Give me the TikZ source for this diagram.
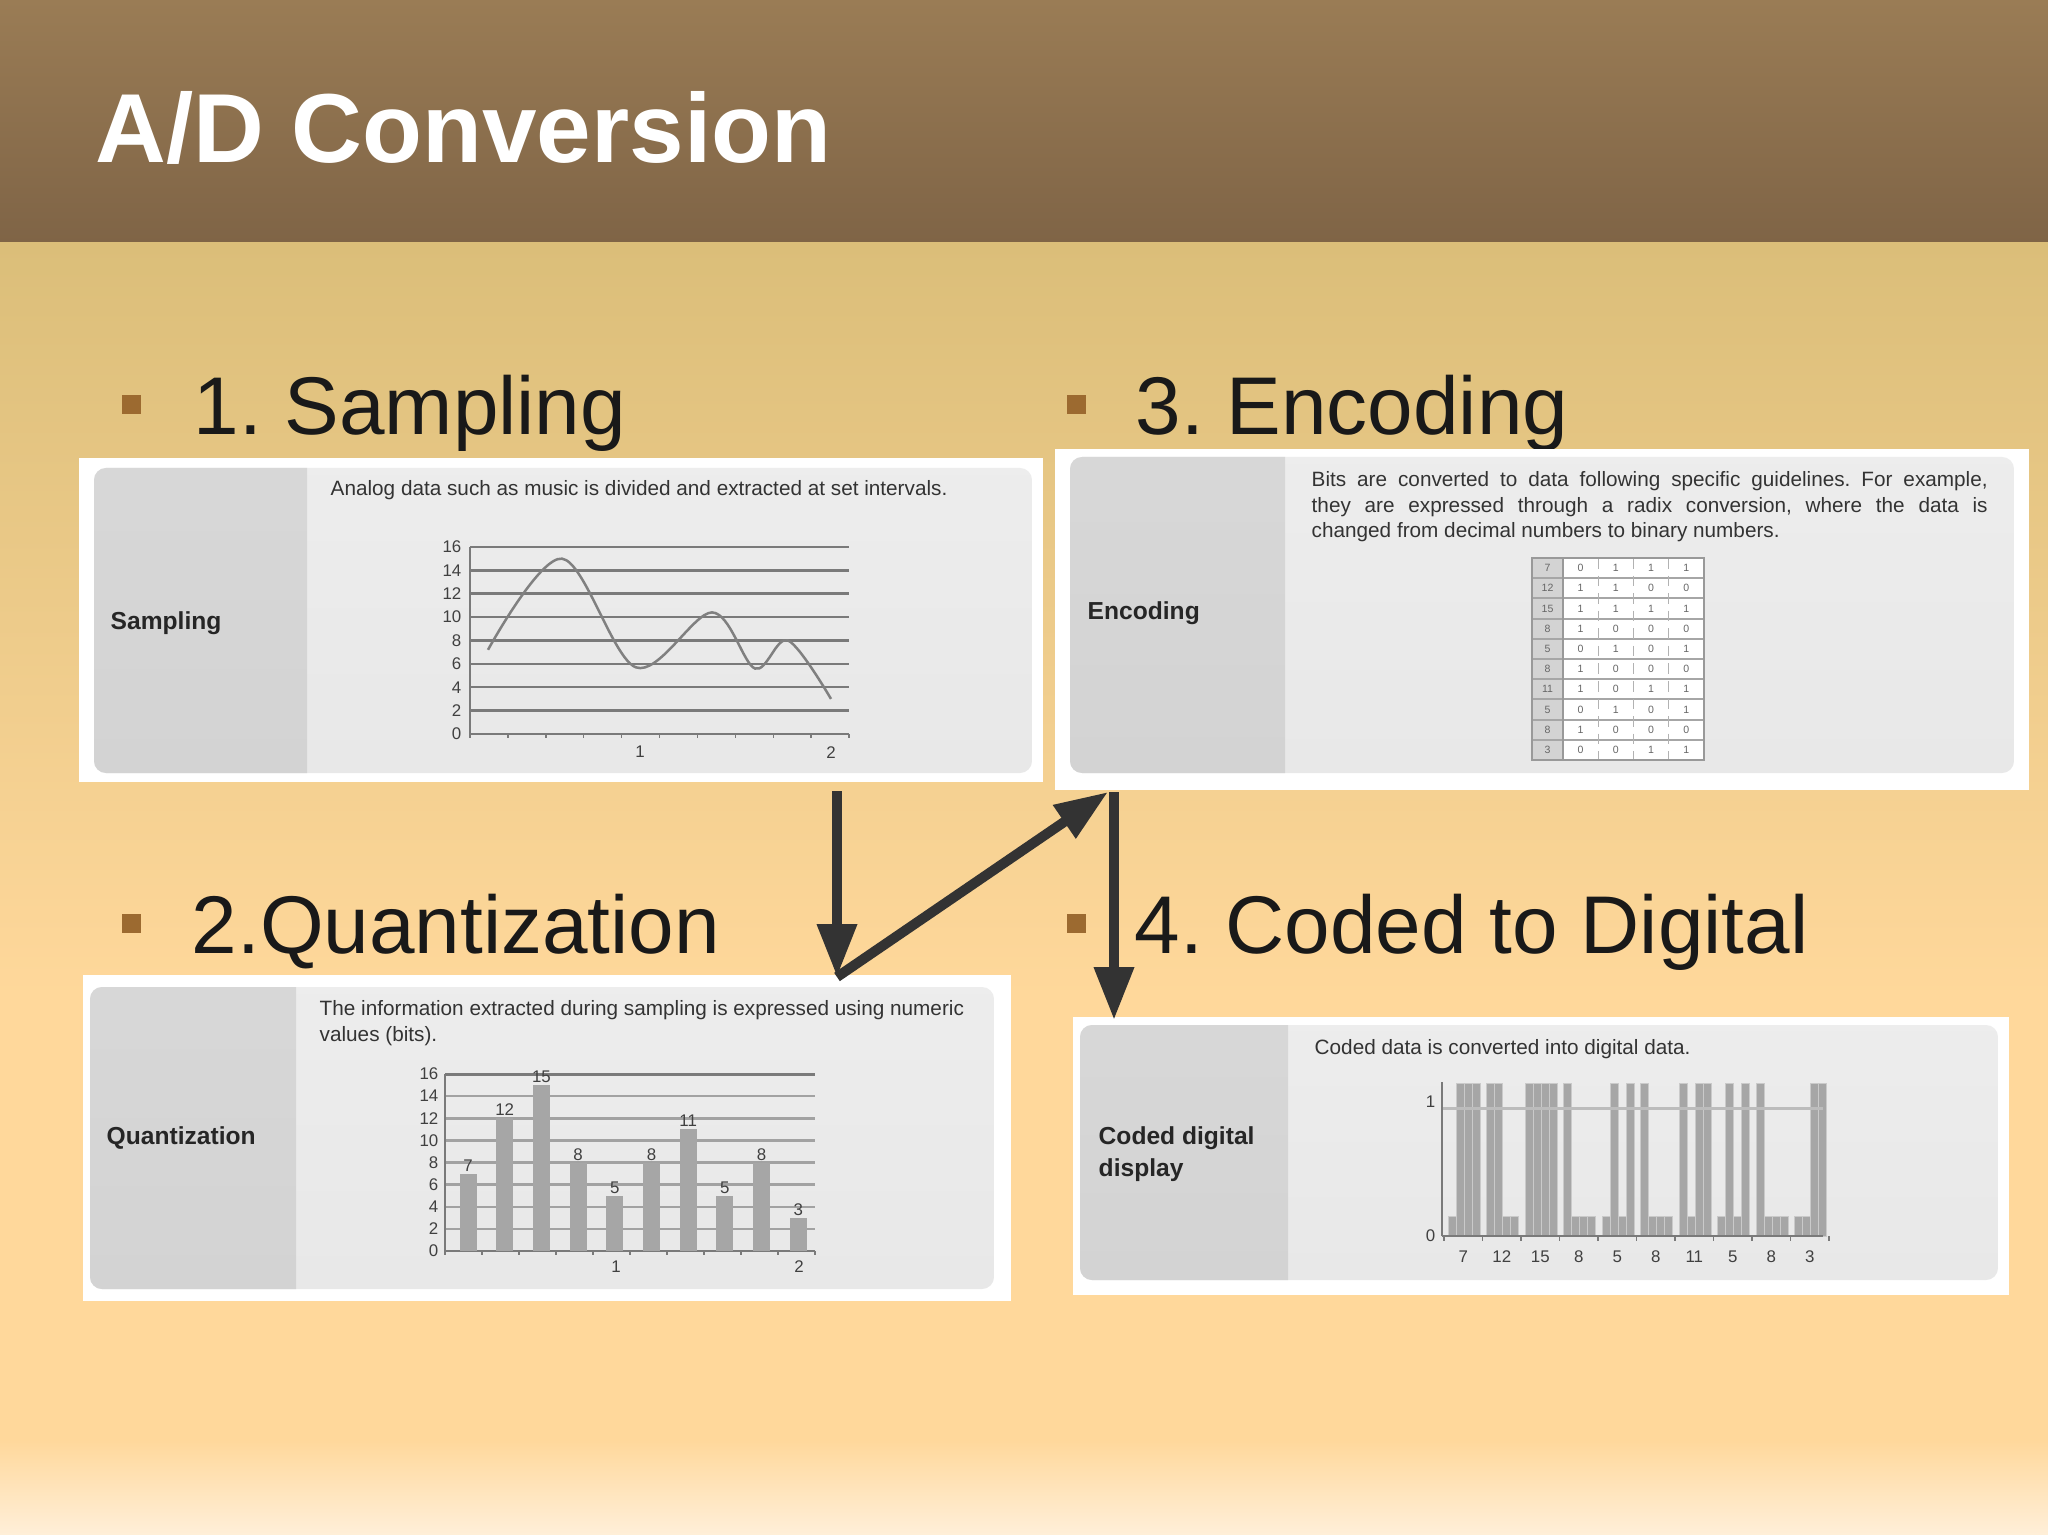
\documentclass[tikz,border=0pt]{standalone}
\usepackage{fontspec}
\setmainfont{Liberation Sans}
\usetikzlibrary{arrows.meta}
\frenchspacing
\definecolor{bandtop}{HTML}{9A7C55}
\definecolor{bandbot}{HTML}{7F6446}
\definecolor{bodytop}{HTML}{DBBE79}
\definecolor{bodymid}{HTML}{FFD89B}
\definecolor{bodybot}{HTML}{FFEFD9}
\definecolor{bulletc}{HTML}{9C6A30}
\definecolor{panelc}{HTML}{E8E8E8}
\definecolor{leftc}{HTML}{D3D3D3}
\definecolor{barc}{HTML}{A6A6A6}
\definecolor{gridc}{HTML}{7A7A7A}
\definecolor{curvec}{HTML}{808080}
\definecolor{arrowc}{HTML}{333333}
\newcommand\panelbox[5]{\begin{scope}\clip[rounded corners=1.2mm](#1,#2)rectangle(#3,#4);
\shade[top color=panelc!80!white,bottom color=panelc](#1,#2)rectangle(#3,#4);
\shade[top color=leftc!90!white,bottom color=leftc](#1,#2)rectangle(#5,#4);\end{scope}}
\def\bitrows{{0,1,1,1},{1,1,0,0},{1,1,1,1},{1,0,0,0},{0,1,0,1},{1,0,0,0},{1,0,1,1},{0,1,0,1},{1,0,0,0},{0,0,1,1}}
\begin{document}
\begin{tikzpicture}[x=.1mm,y=-.1mm]
\tikzstyle{frame}=[fill=white,inner sep=0,anchor=north west]
\tikzstyle{title}=[font=\bfseries\fontsize{27.9}{30}\selectfont,text=white,anchor=base west,inner sep=0]
\tikzstyle{head}=[font=\fontsize{23.3}{26}\selectfont,text=black!90,anchor=base west,inner sep=0]
\tikzstyle{bullet}=[fill=bulletc,minimum size=1.9mm,inner sep=0]
\tikzstyle{tag}=[font=\bfseries\fontsize{7}{9}\selectfont,text=black!85,anchor=west,align=left,inner sep=0]
\tikzstyle{desc}=[font=\fontsize{5.9}{7.25}\selectfont,text=black!80,align=left,inner sep=0]
\tikzstyle{ticklab}=[font=\fontsize{4.8}{5}\selectfont,text=black!75,inner sep=0]
\tikzstyle{tablab}=[font=\fontsize{3}{3}\selectfont,text=black!60,inner sep=0]
\tikzstyle{bigarrow}=[draw=arrowc,line width=1mm,-{Triangle[width=3.8mm,length=5.3mm]}]
\useasboundingbox(0,0)rectangle(2048,1535);
\shade[top color=bandtop,bottom color=bandbot](0,0)rectangle(2048,243);
\shade[top color=bodytop,bottom color=bodymid](0,243)rectangle(2048,1000);
\fill[bodymid](0,1000)rectangle(2048,1440);
\shade[top color=bodymid,bottom color=bodybot](0,1440)rectangle(2048,1535);
\node[title](ttl)at(95,163){A/D Conversion};
\node[bullet](b1)at(131,405){};
\node[head](h1)at(193,435){1. Sampling};
\node[bullet](b3)at(1076,405){};
\node[head](h3)at(1135,435){3. Encoding};
\node[bullet](b2)at(131,923){};
\node[head](h2)at(191,953){2.Quantization};
\node[bullet](b4)at(1076,923){};
\node[head](h4)at(1134,953){4. Coded to Digital};
\node[frame,minimum width=96.4mm,minimum height=32.4mm](samp)at(78,457){};
\node[frame,minimum width=97.4mm,minimum height=34.1mm](enc)at(1054,448){};
\node[frame,minimum width=92.8mm,minimum height=32.6mm](quant)at(82,974){};
\node[frame,minimum width=93.6mm,minimum height=27.8mm](coded)at(1072,1016){};
\panelbox{94}{468}{1032}{773}{307}
\panelbox{1070}{457}{2014}{773}{1285}
\panelbox{90}{987}{994}{1289}{296}
\panelbox{1080}{1025}{1998}{1280}{1288}
\node[tag](t1)at(110,623){Sampling};
\node[tag](t3)at(1087,613){Encoding};
\node[tag](t2)at(106,1138){Quantization};
\node[tag](t4)at(1098,1154){Coded digital\\display};
\node[desc,anchor=base west](d1)at(330,496){Analog data such as music is divided and extracted at set intervals.};
\node[desc,anchor=north west](d3)at(1311,471){\makebox[67.6mm][s]{Bits are converted to data following specific guidelines. For example,}\\\makebox[67.6mm][s]{they are expressed through a radix conversion, where the data is}\\changed from decimal numbers to binary numbers.};
\node[desc,anchor=north west](d2)at(319,1000){The information extracted during sampling is expressed using numeric\\values (bits).};
\node[desc,anchor=base west](d4)at(1314,1054){Coded data is converted into digital data.};
\begin{scope}[shift={(470,734)},y=1.169mm]
\foreach \v in {0,2,...,16}\draw[gridc,line width=.25mm](0,\v)--(379,\v);
\draw[gridc](0,0)--(0,16);
\foreach \i in {0,...,10}\draw[gridc](\i*37.9,0)--(\i*37.9,-.35);
\foreach \v in {0,2,...,16}\node[ticklab,anchor=east](sy\v)at(-8,\v){\v};
\node[ticklab](sx1)at(170,-1.55){1};
\node[ticklab](sx2)at(361,-1.55){2};
\draw[curvec,line width=.25mm]plot[smooth,tension=.55]coordinates{(18,7.2)(92,15)(166,5.7)(242,10.4)(285,5.6)(318,8)(361,3)};
\end{scope}
\begin{scope}[shift={(445,1251)},y=1.106mm]
\foreach \v in {2,4,...,14}\draw[gridc!70,line width=.25mm](0,\v)--(370,\v);
\draw[gridc,line width=.3mm](0,16)--(370,16);
\draw[gridc](0,0)--(370,0);\draw[gridc](0,0)--(0,16);
\foreach \v in {0,2,...,16}\node[ticklab,anchor=east](qy\v)at(-6,\v){\v};
\foreach \n[count=\i from 0]in{7,12,15,8,5,8,11,5,8,3}{\fill[barc](14.5+\i*36.7,0)rectangle++(17,\n);
\node[ticklab,anchor=south](qv\i)at(23+\i*36.7,\n+.15){\n};}
\foreach \i in {0,...,10}\draw[gridc](\i*37,0)--(\i*37,-.35);
\node[ticklab](qx1)at(171,-1.45){1};
\node[ticklab](qx2)at(354,-1.45){2};
\end{scope}
\begin{scope}[shift={(1442,1236)},y=12.8mm]
\foreach \bits[count=\r from 0]in\bitrows{\foreach \b[count=\c from 0]in\bits\fill[barc,draw=barc!60!white,line width=.1mm](6+\r*38.5+\c*8,0)rectangle++(8,\b*1.045+.15);}
\draw[gridc!50,line width=.3mm](0,1)--(381,1);
\draw[gridc](0,0)--(381,0);\draw[gridc](0,0)--(0,1.2);
\foreach \i in {0,...,10}\draw[gridc](2+\i*38.5,0)--(2+\i*38.5,-.04);
\node[ticklab,anchor=east](cy0)at(-6,0){0};
\node[ticklab,anchor=east](cy1)at(-6,1.05){1};
\foreach \n[count=\i from 0]in{7,12,15,8,5,8,11,5,8,3}\node[ticklab](cx\i)at(21.25+\i*38.5,-.16){\n};
\end{scope}
\fill[white](1532,558)rectangle(1704,760);
\fill[leftc](1532,558)rectangle(1563,760);
\foreach \r in {1,...,9}\draw[gray!70,line width=.2mm](1532,558+\r*20.2)--(1704,558+\r*20.2);
\foreach \c in {1,2,3}\draw[gray!60,densely dashed,line width=.1mm](1563+\c*35.25,558)--(1563+\c*35.25,760);
\draw[gray!80,line width=.2mm](1532,558)rectangle(1704,760);
\draw[gray!80](1563,558)--(1563,760);
\foreach \n[count=\r from 0]in{7,12,15,8,5,8,11,5,8,3}\node[tablab](tn\r)at(1547.5,568.1+\r*20.2){\n};
\foreach \bits[count=\r from 0]in\bitrows{\foreach \b[count=\c from 0]in\bits\node[tablab](tb\r\c)at(1580.6+\c*35.25,568.1+\r*20.2){\b};}
\coordinate(qtop)at(837,977);
\coordinate(ecorner)at(1108,792);
\coordinate(ctop)at(1114,1020);
\draw[bigarrow]([yshift=-.9mm]samp.south-|qtop)--(qtop);
\draw[bigarrow](qtop)--(ecorner);
\draw[bigarrow](ecorner-|ctop)--(ctop);
\end{tikzpicture}
\end{document}
